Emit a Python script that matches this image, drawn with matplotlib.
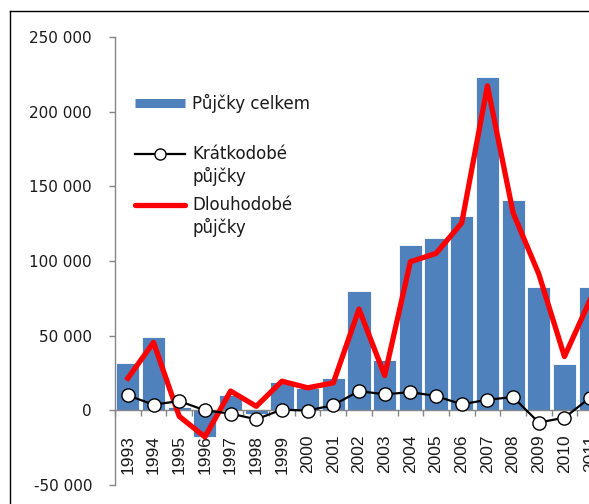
import numpy as np
import matplotlib
matplotlib.use("Agg")
import matplotlib.pyplot as plt
from matplotlib.lines import Line2D
from matplotlib.ticker import FixedLocator, FuncFormatter

plt.rcParams['font.family'] = ['DejaVu Sans']

# Data
years = [str(y) for y in range(1993, 2012)]
celkem = [32000, 49000, 2000, -17800, 10500, -2500, 19000, 15000, 21500, 80000,
          33500, 111000, 115500, 130000, 223500, 141000, 82500, 31000, 82500]
kratkodobe = [10000, 3800, 6200, 0, -2200, -6000, 500, -200, 3500, 12900,
              10700, 12200, 9600, 4000, 7100, 8900, -8200, -4900, 8500]
dlouhodobe = [21500, 45500, -4000, -17800, 12900, 2700, 19500, 15100, 18400, 67800,
              23300, 99500, 105100, 125500, 217300, 132200, 91300, 36000, 74000]

W, H = 589, 504
fig = plt.figure(figsize=(W / 100, H / 100), dpi=100)
ax = fig.add_axes([115 / W, 19 / H, 488 / W, 448 / H])

x = np.arange(len(years))
ax.bar(x, celkem, width=0.9, color='#4F81BD', edgecolor='white', linewidth=0.6, zorder=2)
ax.plot(x, dlouhodobe, color='#FF0000', lw=3.8, zorder=3)
ax.plot(x, kratkodobe, color='black', lw=1.6, marker='o', ms=9.5,
        mfc='white', mec='black', mew=1.0, zorder=4)

ax.set_xlim(-0.5, len(years) - 0.5)
ax.set_ylim(-50000, 250000)

ax.spines['top'].set_visible(False)
ax.spines['right'].set_visible(False)
ax.spines['bottom'].set_position(('data', 0))
for s in ('left', 'bottom'):
    ax.spines[s].set_color('#868686')
    ax.spines[s].set_linewidth(1.0)

ax.set_yticks(np.arange(-50000, 250001, 50000))
ax.yaxis.set_major_formatter(FuncFormatter(lambda v, p: f"{int(v):,}".replace(',', ' ')))
ax.tick_params(axis='y', direction='out', length=4.5, width=1, color='#868686',
               pad=12, labelsize=11, labelcolor='#1a1a1a')

ax.set_xticks(x)
ax.set_xticklabels(years, rotation=90, fontfamily='Liberation Sans')
ax.xaxis.set_minor_locator(FixedLocator(np.arange(-0.5, len(years), 1)))
ax.tick_params(axis='x', which='major', length=0, pad=17.5, labelsize=12.5,
               labelcolor='#1a1a1a')
ax.tick_params(axis='x', which='minor', direction='out', length=4.5, width=1,
               color='#868686')


# legend drawn by hand (handle sits on the first text line)
def px(xp, yp):
    return (xp - 115) / 488, (485 - yp) / 448


items = [
    (dict(color='#4F81BD', lw=6.5, solid_capstyle='butt'), ['Půjčky celkem'], 103),
    (dict(color='black', lw=1.6, marker='o', ms=8, mfc='white', mec='black',
          markevery=[1]), ['Krátkodobé', 'půjčky'], 154),
    (dict(color='#FF0000', lw=3.8, solid_capstyle='round'), ['Dlouhodobé', 'půjčky'], 205),
]
for style, lines, yp in items:
    x0, y0 = px(135, yp)
    x1, _ = px(185, yp)
    ax.add_line(Line2D([x0, (x0 + x1) / 2, x1], [y0, y0, y0], transform=ax.transAxes,
                       zorder=5, **style))
    for i, line in enumerate(lines):
        tx, ty = px(192, yp + 22 * i)
        ax.text(tx, ty, line, transform=ax.transAxes, fontsize=12,
                va='center', ha='left', color='#1a1a1a')

# outer frame (top and left edge of the chart area)
fig.add_artist(Line2D([10 / W, 1], [1 - 11 / H] * 2, transform=fig.transFigure,
                      color='black', lw=1.0))
fig.add_artist(Line2D([10 / W] * 2, [0, 1 - 11 / H], transform=fig.transFigure,
                      color='black', lw=1.0))

fig.savefig('out.png', dpi=100)
